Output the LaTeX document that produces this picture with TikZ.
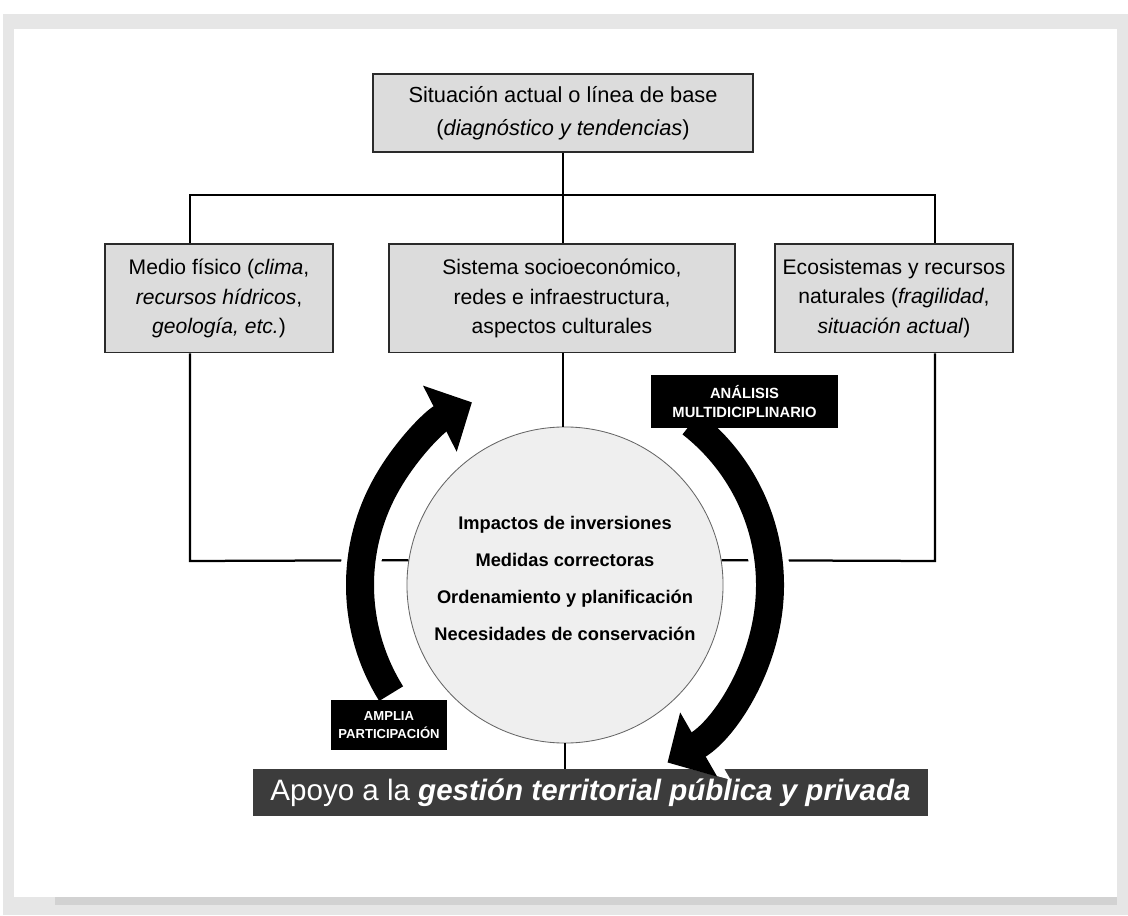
\documentclass[tikz,border=0pt]{standalone}
\usepackage{fontspec}
\setmainfont{Liberation Sans}
\usetikzlibrary{arrows.meta}

\definecolor{pagegray}{HTML}{E6E6E6}
\definecolor{shadegray}{HTML}{D2D2D2}
\definecolor{boxgray}{HTML}{DCDCDC}
\definecolor{boxedge}{HTML}{2A2A2A}
\definecolor{coregray}{HTML}{EFEFEF}
\definecolor{bannergray}{HTML}{3C3C3C}

\tikzset{
	topic/.style={draw=boxedge, line width=1.4pt, fill=boxgray, align=center, inner sep=0pt, minimum height=2.7cm, font=\fontsize{15}{21}\selectfont},
	tag/.style={fill=black, text=white, align=center, inner sep=0pt, font=\bfseries\fontsize{10.5}{14}\selectfont},
	cyclearrow/.style={line width=0.7cm, -{Triangle[length=0.9cm, width=1.8cm]}},
	cyclehalo/.style={white, line width=1cm, -{Triangle[length=1.15cm, width=2.25cm]}}
}

\begin{document}
\begin{tikzpicture}[x=0.025cm, y=0.025cm, line/.style={line width=1.6pt, black}]

	% page
	\useasboundingbox (0,0) rectangle (1128,915);
	\fill[pagegray] (3,0) rectangle (1128,901);
	\fill[shadegray] (55,10) rectangle (1117,18);
	\fill[white] (14,18) rectangle (1117,886);

	% boxes
	\node[topic, minimum width=9.5cm, minimum height=1.95cm, font=\fontsize{15.5}{23.5}\selectfont] (base) at (563,802) {Situación actual o línea de base\\(\textit{diagnóstico y tendencias})};

	\node[topic, minimum width=5.7cm] (fisico) at (219,616.5) {Medio físico (\textit{clima},\\\textit{recursos hídricos},\\\textit{geología, etc.})};
	\node[topic, minimum width=8.65cm] (socio) at (562,616.5) {Sistema socioeconómico,\\redes e infraestructura,\\aspectos culturales};
	\node[topic, minimum width=5.95cm] (eco) at (894,616.5) {Ecosistemas y recursos\\naturales (\textit{fragilidad},\\\textit{situación actual})};

	\node[circle, draw=black!60, line width=0.6pt, fill=coregray, minimum size=7.9cm, inner sep=0pt] (core) at (565,330) {};
	\node[align=center, font=\bfseries\fontsize{13}{26.3}\selectfont] (measures) at (565,337) {Impactos de inversiones\\Medidas correctoras\\Ordenamiento y planificación\\Necesidades de conservación};

	\node[fill=bannergray, text=white, minimum width=16.875cm, minimum height=1.175cm, inner sep=0pt, font=\fontsize{21}{25}\selectfont] (apoyo) at (590.5,122.5) {Apoyo a la \textbf{\textit{gestión territorial pública y privada}}};

	\coordinate (busL) at (190,720);
	\coordinate (busM) at (563,720);
	\coordinate (busR) at (935,720);
	\coordinate (joinL) at (190,354);
	\coordinate (joinR) at (935,354);

	% tree
	\draw[line] (base.south) -- (busM);
	\draw[line] (fisico.north -| busL) -- (busL) -- (busR) -- (busR |- eco.north);
	\draw[line] (busM) -- (socio.north -| busM);

	% into the circle
	\draw[line] (fisico.south -| joinL) -- (joinL) -- (core.171);
	\draw[line] (eco.south -| joinR) -- (joinR) -- (core.9);
	\draw[line] (socio.south -| busM) -- (core.north -| busM);
	\draw[line] (core.south) -- (apoyo.north -| core.south);

	% cycle
	\draw[cyclehalo] ([shift={(212:205)}]core.center) arc[start angle=212, end angle=117, radius=205];
	\draw[cyclearrow] ([shift={(212:205)}]core.center) arc[start angle=212, end angle=117, radius=205];
	\draw[cyclehalo] ([shift={(52:205)}]core.center) arc[start angle=52, end angle=-60, radius=205];
	\draw[cyclearrow] ([shift={(52:205)}]core.center) arc[start angle=52, end angle=-60, radius=205];

	\node[tag, minimum width=4.675cm, minimum height=1.325cm] (analisis) at (744.5,513.5) {ANÁLISIS\\MULTIDICIPLINARIO};
	\node[tag, minimum width=2.9cm, minimum height=1.25cm, font=\bfseries\fontsize{9.3}{13}\selectfont] (amplia) at (389,190) {AMPLIA\\PARTICIPACIÓN};

\end{tikzpicture}
\end{document}
